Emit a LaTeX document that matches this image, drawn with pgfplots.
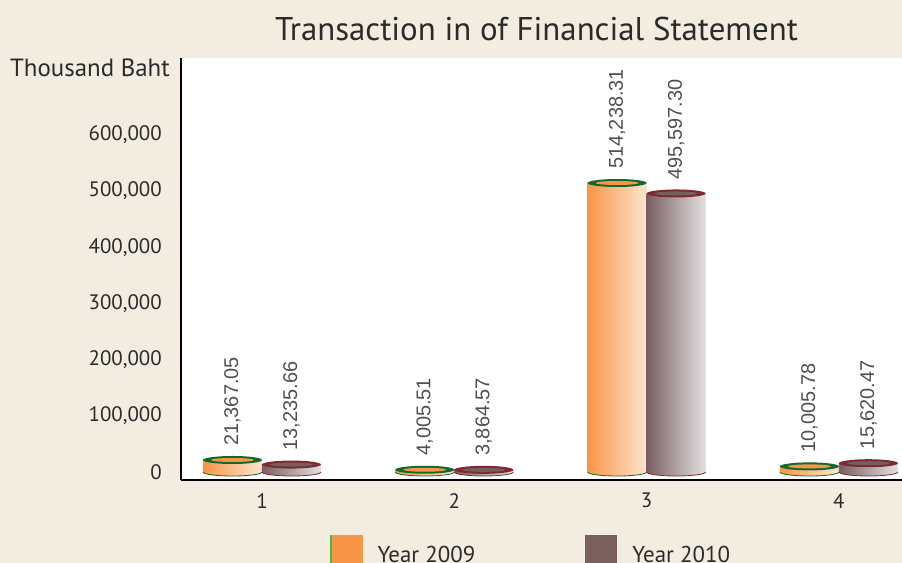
\documentclass[border=0pt]{standalone}
\usepackage{pgfplots}
\pgfplotsset{compat=1.18}
\usepackage{pgfplotstable}
\usetikzlibrary{shapes.geometric}
\usepackage{fontspec}
\setmainfont{PT Sans}
\newfontfamily\valfont{Liberation Sans}
\definecolor{bg}{HTML}{F2ECE1}
\definecolor{orA}{HTML}{F79646}
\definecolor{orB}{HTML}{FDE5D0}
\definecolor{grA}{HTML}{7A5F62}
\definecolor{grB}{HTML}{E3E1E1}
\definecolor{ringG}{HTML}{12692E}
\definecolor{ringR}{HTML}{7E2A30}
\definecolor{capGr}{HTML}{735F60}
\definecolor{legO}{HTML}{F79646}
\definecolor{legG}{HTML}{79605F}
\definecolor{legLine}{HTML}{3DBF4A}
\definecolor{txt}{HTML}{2B2B2B}
\definecolor{valtxt}{HTML}{505050}

\pgfplotstableread{
x y label
1 21367.05 21,367.05
2 4005.51 4,005.51
3 514238.31 514,238.31
4 10005.78 10,005.78
}\yA
\pgfplotstableread{
x y label
1 13235.66 13,235.66
2 3864.57 3,864.57
3 495597.30 495,597.30
4 15620.47 15,620.47
}\yB

\pgfplotsset{
  cylbase/.style n args={4}{forget plot, ybar, bar width=59bp, bar shift=#1, draw=none, fill=none,
    nodes near coords={\tikz{\shade[left color=#2, right color=#3] (0bp,0bp) arc[start angle=180, end angle=360, x radius=29.5bp, y radius=4bp] -- cycle;
        \draw[#4, line width=0.8bp] (0bp,0bp) arc[start angle=180, end angle=360, x radius=29.5bp, y radius=4bp];}},
    every node near coord/.style={xshift=#1, inner sep=0pt, outer sep=0pt, anchor=north, yshift=0.4bp}},
  cylbar/.style n args={3}{forget plot, ybar, bar width=59bp, bar shift=#1, draw=none, left color=#2, right color=#3},
  cylcap/.style n args={3}{forget plot, ybar, bar width=59bp, bar shift=#1, draw=none, fill=none,
    nodes near coords={},
    every node near coord/.style={xshift=#1, ellipse, inner sep=0pt, minimum width=59bp, minimum height=8bp, fill=#2, anchor=center,
      label={[ellipse, inner sep=0pt, minimum width=43bp, minimum height=4bp, fill=#3]center:{}}}},
  cyllab/.style={forget plot, ybar, bar width=59bp, bar shift=#1, draw=none, fill=none,
    point meta=explicit symbolic, nodes near coords={\pgfplotspointmeta},
    every node near coord/.style={xshift=#1, yshift=14bp, rotate=90, anchor=west, inner sep=0pt,
      font=\valfont\fontsize{20}{22}\selectfont, text=valtxt}},
}

\begin{document}
\begin{tikzpicture}
\path[use as bounding box, fill=bg] (-181bp,-83bp) rectangle (721bp,480bp);
\begin{axis}[
  at={(0,0)}, anchor=south west,
  scale only axis, width=721bp, height=422bp,
  xmin=0.579, xmax=4.328, ymin=-14235, ymax=736655,
  clip=false,
  axis background/.style={fill=white},
  axis x line*=bottom, axis y line*=left,
  axis line style={line width=2.5bp, black},
  xtick={1,2,3,4}, ytick={0,100000,...,600000},
  major tick length=0pt,
  scaled y ticks=false,
  /pgf/number format/fixed,
  /pgf/number format/1000 sep={,},
  /pgf/number format/assume math mode=true,
  tick label style={font=\fontsize{21}{24}\selectfont, text=txt, inner sep=0pt},
  yticklabel style={xshift=-19bp},
  xticklabel style={yshift=-13bp},
  title={Transaction in of Financial Statement},
  title style={at={(0.5,1)}, anchor=base, xshift=-5bp, yshift=12bp, font=\fontsize{33}{38}\selectfont, text=txt},
  ylabel={Thousand Baht},
  every axis y label/.style={at={(axis description cs:0,1)}, anchor=east, inner sep=0pt, xshift=-11bp, yshift=-10bp, font=\fontsize{25}{28}\selectfont, text=txt},
  legend image code/.code={\fill[#1] (0bp,-12bp) rectangle (32bp,20bp);},
  legend columns=2,
  legend style={at={(axis description cs:0.2067,-0.1303)}, anchor=north west, draw=none, fill=none, inner sep=0pt,
    font=\fontsize{23}{26}\selectfont, text=txt,
    /tikz/every odd column/.append style={column sep=13bp},
    /tikz/every even column/.append style={column sep=108bp}},
  legend cell align=left,
]
% bottoms of the cylinders (base level 0)
\addplot[cylbase={-29.5bp}{orA}{orB}{ringG}] coordinates {(1,0) (2,0) (3,0) (4,0)};
\addplot[cylbase={29.5bp}{grA}{grB}{ringR}] coordinates {(1,0) (2,0) (3,0) (4,0)};
% bodies, one per bar so that each is shaded on its own
\pgfplotsinvokeforeach{1,2,3,4}{
  \addplot[cylbar={-29.5bp}{orA}{orB}, restrict x to domain=#1:#1] table[x=x,y=y]{\yA};
  \addplot[cylbar={29.5bp}{grA}{grB}, restrict x to domain=#1:#1] table[x=x,y=y]{\yB};
}
% tops
\addplot[cylcap={-29.5bp}{ringG}{orA}] table[x=x,y=y]{\yA};
\addplot[cylcap={29.5bp}{ringR}{capGr}] table[x=x,y=y]{\yB};
% value labels
\addplot[cyllab={-29.5bp}] table[x=x,y=y,meta=label]{\yA};
\addplot[cyllab={29.5bp}] table[x=x,y=y,meta=label]{\yB};

\addlegendimage{legend image code/.code={\fill[legO] (0bp,-12bp) rectangle (32bp,20bp); \fill[legLine] (0bp,-12bp) rectangle (1.2bp,20bp);}}
\addlegendentry{Year 2009}
\addlegendimage{fill=legG, draw=none}
\addlegendentry{Year 2010}
\end{axis}
\end{tikzpicture}
\end{document}
